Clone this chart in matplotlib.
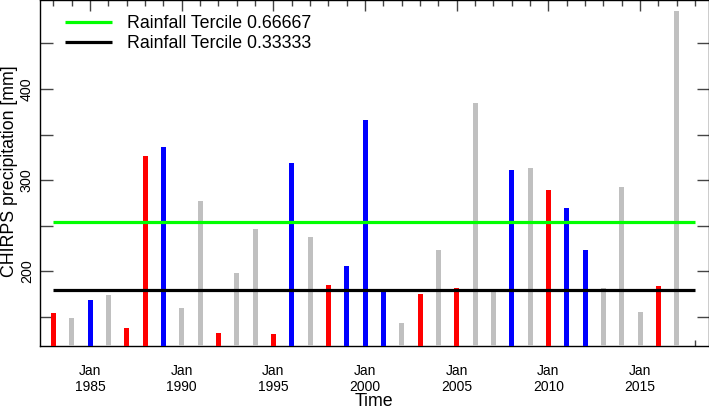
import matplotlib
matplotlib.use("Agg")
import matplotlib.pyplot as plt
from matplotlib.ticker import MultipleLocator, FixedLocator, NullFormatter

plt.rcParams['font.family'] = ['Liberation Sans', 'DejaVu Sans']

years = list(range(1983, 2018))
precip = [154, 149, 169, 174, 138, 327, 336, 160, 277, 132,
          198, 247, 131, 319, 238, 185, 206, 366, 180, 144,
          175, 224, 182, 385, 179, 311, 313, 289, 269, 224,
          182, 293, 156, 184, 486]
# r = red years, b = blue years, n = grey years
phase = ['r', 'n', 'b', 'n', 'r', 'r', 'b', 'n', 'n', 'r',
         'n', 'n', 'r', 'b', 'n', 'r', 'b', 'b', 'b', 'n',
         'r', 'n', 'r', 'n', 'n', 'b', 'n', 'r', 'b', 'b',
         'n', 'n', 'n', 'r', 'n']
tercile_hi = 254.2
tercile_lo = 179.9
label_years = [1985, 1990, 1995, 2000, 2005, 2010, 2015]

phase_colors = {'r': '#ff0000', 'b': '#0000ff', 'n': '#c0c0c0'}

fig = plt.figure(figsize=(7.09, 4.09), dpi=100)
ax = fig.add_axes([40 / 709, 1 - 345.7 / 409, 668.5 / 709, 345.2 / 409])

ax.bar(years, precip, width=0.27, color=[phase_colors[p] for p in phase], zorder=3)

ax.hlines(tercile_hi, years[0], years[-1] + 1, color='#00ff00', lw=2.3, zorder=4,
          label='Rainfall Tercile 0.66667')
ax.hlines(tercile_lo, years[0], years[-1] + 1, color='black', lw=2.3, zorder=4,
          label='Rainfall Tercile 0.33333')

ax.set_xlim(1982.27, 2018.73)
ax.set_ylim(118.6, 497)

ax.xaxis.set_major_locator(FixedLocator(label_years))
ax.set_xticklabels(['Jan\n%d' % y for y in label_years])
ax.xaxis.set_minor_locator(MultipleLocator(1))
ax.yaxis.set_major_locator(MultipleLocator(100))
ax.yaxis.set_minor_locator(MultipleLocator(50))
ax.yaxis.set_minor_formatter(NullFormatter())

ax.tick_params(axis='x', which='both', direction='in', top=True, bottom=True,
               color='#444444', width=1, labelsize=10, pad=13)
ax.tick_params(axis='x', which='major', length=8)
ax.tick_params(axis='x', which='minor', length=4.3)
ax.tick_params(axis='y', which='both', direction='in', left=True, right=True,
               color='#444444', width=1, length=9, labelsize=10.3, pad=4.5)
for lbl in ax.get_yticklabels():
    lbl.set_rotation(90)
    lbl.set_va('center')

for s in ax.spines.values():
    s.set_linewidth(1)

ax.set_xlabel('Time', fontsize=12.8, labelpad=-1)
ax.set_ylabel('CHIRPS precipitation [mm]', fontsize=12.8)
ax.yaxis.set_label_coords(18 / 709, 1 - 171 / 409, transform=fig.transFigure)

leg = ax.legend(loc='upper left', bbox_to_anchor=(60 / 709, 1 - 10 / 409),
                bbox_transform=fig.transFigure, frameon=False, fontsize=12.8,
                handlelength=2.6, handletextpad=0.85, labelspacing=0.15,
                borderaxespad=0, borderpad=0.3, labelcolor='linecolor')

fig.savefig('out.png', dpi=100)
